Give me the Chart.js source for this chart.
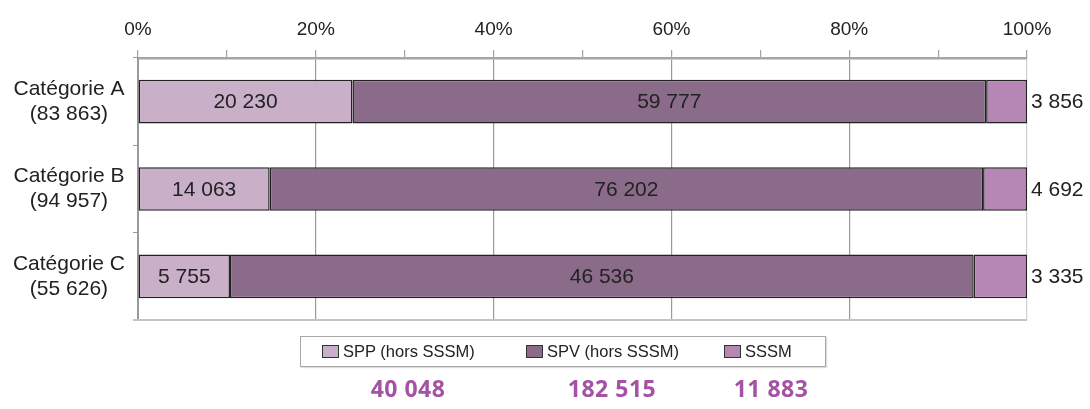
<!DOCTYPE html>
<html>
<head>
<meta charset="utf-8">
<script src="https://cdn.jsdelivr.net/npm/chart.js@4/dist/chart.umd.min.js"></script>
<style>
    body { margin: 0; background: #fff; }
    #wrap { position: relative; width: 1090px; height: 409px; }
    #legendBox {
        position: absolute; left: 300px; top: 336px; width: 524px; height: 29px;
        border: 1px solid #a8a8a8; box-shadow: 1px 1px 1px #ddd;
        font-family: "Liberation Sans", Arial, sans-serif; font-size: 16.5px; color: #222;
    }
    .item { position: absolute; top: 5px; white-space: nowrap; }
    .sw { display: inline-block; width: 15px; height: 11px; border: 1px solid #333; margin-right: 4px; vertical-align: -1px; }
    .total {
        position: absolute; top: 372px; transform: translateX(-50%);
        font-family: "Open Sans", "Noto Sans", sans-serif; font-weight: bold; font-size: 23px; color: #a552a5;
        letter-spacing: 0.5px; white-space: nowrap;
    }
</style>
</head>
<body>
<div id="wrap">
    <canvas id="chart" width="1090" height="409"></canvas>
    <div id="legendBox"></div>
</div>
<script>
// données
var categories = [['Catégorie A', '(83 863)'], ['Catégorie B', '(94 957)'], ['Catégorie C', '(55 626)']];
var seriesNames = ['SPP (hors SSSM)', 'SPV (hors SSSM)', 'SSSM'];
var sppValues = [20230, 14063, 5755];
var spvValues = [59777, 76202, 46536];
var sssmValues = [3856, 4692, 3335];
var categoryTotals = [83863, 94957, 55626];
var seriesTotals = [40048, 182515, 11883];
var colors = ['#c9afc8', '#8b6b8a', '#b686b4'];

function fmt(n) {
    return String(n).replace(/\B(?=(\d{3})+(?!\d))/g, ' ');
}

function toPercent(values) {
    return values.map(function (v, i) { return v / categoryTotals[i] * 100; });
}

var rawSeries = [sppValues, spvValues, sssmValues];

var datasets = rawSeries.map(function (values, i) {
    return {
        label: seriesNames[i],
        data: toPercent(values),
        backgroundColor: colors[i],
        borderColor: '#222',
        borderWidth: 1.5,
        borderSkipped: false,
        barPercentage: 0.5,
        categoryPercentage: 1
    };
});

// étiquettes de valeurs sur les barres + trait bas de la zone
const valueLabels = {
    id: 'valueLabels',
    beforeDatasetsDraw(chart) {
        const a = chart.chartArea, ctx = chart.ctx;
        ctx.save();
        ctx.strokeStyle = '#c4c4c4';
        ctx.lineWidth = 2;
        ctx.beginPath();
        ctx.moveTo(a.left - 5, a.bottom);
        ctx.lineTo(a.right, a.bottom);
        ctx.stroke();
        ctx.restore();
    },
    afterDatasetsDraw(chart) {
        const ctx = chart.ctx;
        ctx.save();
        ctx.font = '21px "Liberation Sans", Arial, sans-serif';
        ctx.fillStyle = '#222';
        ctx.textBaseline = 'middle';
        chart.data.datasets.forEach(function (ds, di) {
            const meta = chart.getDatasetMeta(di);
            meta.data.forEach(function (bar, i) {
                const text = fmt(rawSeries[di][i]);
                if (di === 2) {
                    ctx.textAlign = 'left';
                    ctx.fillText(text, bar.x + 4, bar.y + 1);
                } else {
                    ctx.textAlign = 'center';
                    ctx.fillText(text, (bar.x + bar.base) / 2, bar.y + 1);
                }
            });
        });
        ctx.restore();
    }
};

new Chart(document.getElementById('chart'), {
    type: 'bar',
    data: { labels: categories, datasets: datasets },
    options: {
        indexAxis: 'y',
        responsive: false,
        animation: false,
        layout: { padding: { top: 10, right: 63, bottom: 89, left: 0 } },
        plugins: { legend: { display: false }, tooltip: { enabled: false } },
        scales: {
            x: {
                position: 'top',
                stacked: true,
                min: 0,
                max: 100,
                ticks: {
                    stepSize: 10,
                    autoSkip: false,
                    maxRotation: 0,
                    padding: 8.6,
                    color: '#222',
                    font: { family: '"Liberation Sans", Arial, sans-serif', size: 19 },
                    callback: function (v) { return v % 20 === 0 ? v + '%' : ''; }
                },
                grid: {
                    tickLength: 8,
                    tickColor: '#a0a0a0',
                    color: function (c) {
                        const v = c.tick ? c.tick.value : 0;
                        if (v === 100) return '#d0d0d0';
                        return v % 20 === 0 ? '#9a9a9a' : 'rgba(0,0,0,0)';
                    },
                    lineWidth: 1.2
                },
                border: { color: '#a5a5a5', width: 2.5 }
            },
            y: {
                stacked: true,
                afterFit: function (scale) {
                    scale.width = 138;
                    scale.paddingTop = 0;
                    scale.paddingBottom = 0;
                },
                ticks: {
                    crossAlign: 'center',
                    padding: 8,
                    color: '#222',
                    font: { family: '"Liberation Sans", Arial, sans-serif', size: 21, lineHeight: 1.2 }
                },
                grid: {
                    offset: true,
                    drawOnChartArea: false,
                    tickLength: 5,
                    tickColor: '#999'
                },
                border: { color: '#999', width: 2 }
            }
        }
    },
    plugins: [valueLabels]
});

// légende et totaux
var legendBox = document.getElementById('legendBox');
var legendLeft = [21, 225, 423];
seriesNames.forEach(function (name, i) {
    var item = document.createElement('div');
    item.className = 'item';
    item.style.left = legendLeft[i] + 'px';
    item.innerHTML = '<span class="sw" style="background:' + colors[i] + '"></span>' + name;
    legendBox.appendChild(item);
});

var totalCenters = [408, 612, 771];
seriesTotals.forEach(function (t, i) {
    var d = document.createElement('div');
    d.className = 'total';
    d.style.left = totalCenters[i] + 'px';
    d.textContent = fmt(t);
    document.getElementById('wrap').appendChild(d);
});
</script>
</body>
</html>
